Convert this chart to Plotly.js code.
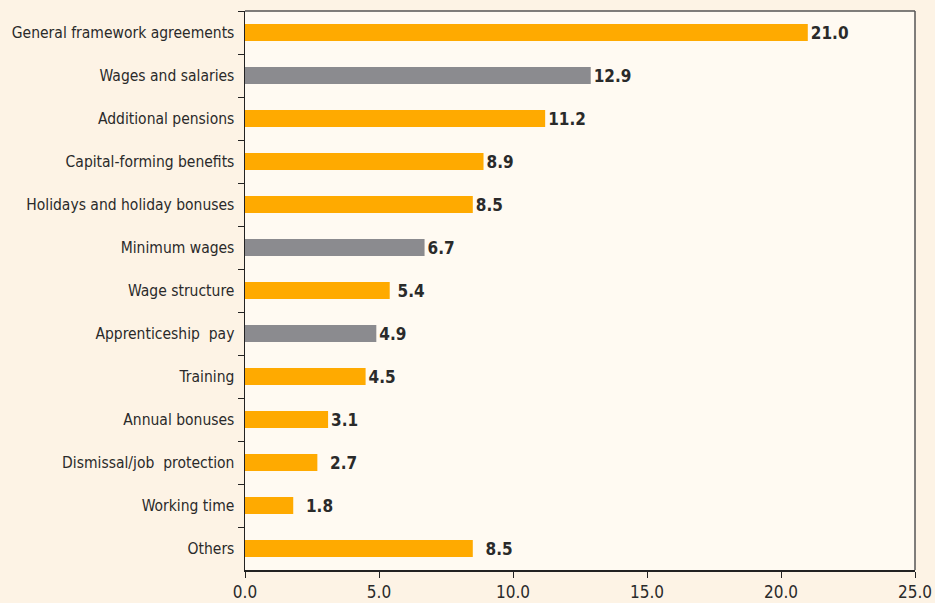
<!DOCTYPE html>
<html>
<head>
<meta charset="utf-8">
<script src="https://cdn.plot.ly/plotly-3.0.1.min.js"></script>
<style>
html,body{margin:0;padding:0;background:#fdf3e5;}
#chart{width:935px;height:603px;}
</style>
</head>
<body>
<div id="chart"></div>
<script>
const categories = [
  "General framework agreements",
  "Wages and salaries",
  "Additional pensions",
  "Capital-forming benefits",
  "Holidays and holiday bonuses",
  "Minimum wages",
  "Wage structure",
  "Apprenticeship  pay",
  "Training",
  "Annual bonuses",
  "Dismissal/job  protection",
  "Working time",
  "Others"
];
const values = [21.0, 12.9, 11.2, 8.9, 8.5, 6.7, 5.4, 4.9, 4.5, 3.1, 2.7, 1.8, 8.5];
const groups = ["o","g","o","o","o","g","o","g","o","o","o","o","o"];
const labelPad = ["","","","","","","\u00a0","","","","\u00a0\u00a0","\u00a0\u00a0","\u00a0\u00a0"];
const xTicks = [0, 5, 10, 15, 20, 25];

const colorMap = {o: "#ffaa00", g: "#8b8b8f"};
const FONT = "'Liberation Sans Narrow', 'DejaVu Sans Condensed', 'Roboto', sans-serif";

const trace = {
  type: "bar",
  orientation: "h",
  y: categories,
  x: values,
  width: 0.4,
  marker: {color: groups.map(g => colorMap[g])},
  text: values.map((v, i) => labelPad[i] + "<b>" + v.toFixed(1) + "</b>"),
  textposition: "outside",
  constraintext: "none",
  cliponaxis: false,
  textfont: {family: FONT, size: 17, color: "#2a2a2a"},
  hoverinfo: "skip"
};

const layout = {
  width: 935,
  height: 603,
  margin: {l: 245, r: 20, t: 11, b: 33},
  paper_bgcolor: "#fdf3e5",
  plot_bgcolor: "#fffaf2",
  showlegend: false,
  font: {family: FONT, size: 16, color: "#2a2a2a"},
  xaxis: {
    range: [0, 25],
    tickvals: xTicks,
    ticktext: xTicks.map(v => v.toFixed(1)),
    showgrid: false,
    zeroline: false,
    showline: true,
    linecolor: "#222",
    linewidth: 1.5,
    ticks: "outside",
    ticklen: 6,
    tickcolor: "#222",
    tickfont: {family: FONT, size: 17, color: "#2a2a2a"},
    fixedrange: true
  },
  yaxis: {
    type: "category",
    categoryorder: "array",
    categoryarray: categories,
    autorange: "reversed",
    tickson: "boundaries",
    ticks: "outside",
    ticklen: 6,
    tickcolor: "#222",
    showgrid: false,
    zeroline: false,
    showline: true,
    linecolor: "#222",
    linewidth: 1.5,
    ticklabelstandoff: 6,
    tickfont: {family: FONT, size: 15.5, color: "#2a2a2a"},
    fixedrange: true
  },
  shapes: [
    {type: "line", xref: "paper", yref: "paper", x0: 0, x1: 1, y0: 1, y1: 1, line: {color: "#555", width: 1.5}},
    {type: "line", xref: "paper", yref: "paper", x0: 1, x1: 1, y0: 0, y1: 1, line: {color: "#555", width: 1.5}}
  ]
};

Plotly.newPlot("chart", [trace], layout, {displayModeBar: false, staticPlot: true});
</script>
</body>
</html>
